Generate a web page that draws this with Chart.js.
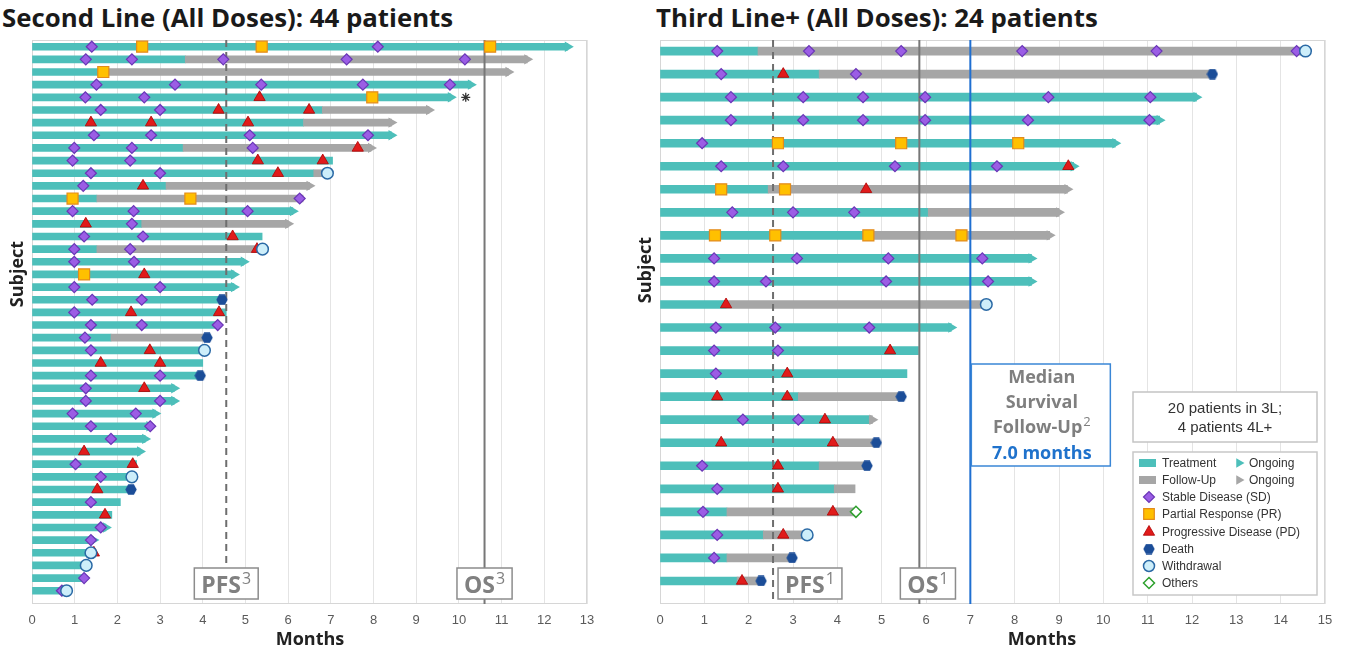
<!DOCTYPE html>
<html>
<head>
<meta charset="utf-8">
<script src="https://cdn.jsdelivr.net/npm/chart.js@4.4.0/dist/chart.umd.min.js"></script>
<style>
  html, body { margin: 0; padding: 0; background: #fff; width: 1348px; height: 651px; overflow: hidden; }
  .title { position: absolute; top: -1px; font-family: "Open Sans", sans-serif; font-weight: 700; font-size: 25.8px; line-height: 36px; color: #1a1a1a; white-space: nowrap; }
  #cL { position: absolute; left: 0; top: 0; }
  #cR { position: absolute; left: 628px; top: 0; }
</style>
</head>
<body>
<div class="title" style="left:2px">Second Line (All Doses): 44 patients</div>
<div class="title" style="left:656px">Third Line+ (All Doses): 24 patients</div>
<canvas id="cL" width="620" height="651"></canvas>
<canvas id="cR" width="720" height="651"></canvas>
<script>
// ---------- Second line (44 subjects), months ----------
const L_treatEnd = [12.55, 3.59, 1.67, 10.28, 9.81, 6.8, 6.36, 8.42, 3.54, 7.04, 6.6, 3.14, 1.52, 6.11, 2.57,
  5.39, 1.52, 4.96, 4.73, 4.73, 4.45, 4.55, 4.35, 1.85, 4.04, 4.0, 3.94, 3.33, 3.33, 2.89, 2.75, 2.65, 2.53,
  2.45, 2.34, 2.32, 2.07, 1.87, 1.73, 1.44, 1.45, 1.27, 1.22, 0.77];
const L_followEnd = [null, 11.6, 11.16, null, null, 9.3, 8.42, null, 7.94, null, 6.92, 6.5, 6.35, null, 6.0,
  null, 5.4, null, null, null, null, null, null, 4.1, null, null, null, null, null, null, null, null, null,
  null, null, null, null, null, null, null, null, null, null, null];
// 'T' = ongoing on treatment, 'F' = ongoing in follow-up
const L_ongoing = ['T', 'F', 'F', 'T', 'T', 'F', 'F', 'T', 'F', '', '', 'F', '', 'T', 'F', '', '', 'T', 'T', 'T',
  '', '', '', '', '', '', '', 'T', 'T', 'T', 'T', 'T', 'T', '', '', '', '', '', 'T', 'T', '', '', '', ''];
// [subject row, month]
const L_sd = [[0, 1.4], [0, 8.1], [1, 1.26], [1, 2.34], [1, 4.48], [1, 7.37], [1, 10.14], [3, 1.51], [3, 3.35],
  [3, 5.37], [3, 7.75], [3, 9.79], [4, 1.25], [4, 2.63], [5, 1.61], [5, 3.0], [7, 1.45], [7, 2.79], [7, 5.1],
  [7, 7.87], [8, 0.99], [8, 2.34], [8, 5.17], [9, 0.95], [9, 2.3], [10, 1.38], [10, 3.0], [11, 1.2], [12, 6.27],
  [13, 0.95], [13, 2.38], [13, 5.05], [14, 2.34], [15, 1.22], [15, 2.6], [16, 0.99], [16, 2.3], [17, 0.99],
  [17, 2.39], [19, 0.99], [19, 3.0], [20, 1.41], [20, 2.57], [21, 0.99], [22, 1.38], [22, 2.57], [22, 4.35],
  [23, 1.24], [24, 1.38], [26, 1.38], [26, 3.0], [27, 1.26], [28, 1.26], [28, 3.0], [29, 0.95], [29, 2.43],
  [30, 1.38], [30, 2.77], [31, 1.85], [33, 1.02], [34, 1.61], [36, 1.38], [38, 1.61], [39, 1.38], [42, 1.22],
  [43, 0.7]];
const L_pr = [[0, 2.58], [0, 5.38], [0, 10.73], [2, 1.67], [4, 7.97], [12, 0.95], [12, 3.71], [18, 1.22]];
const L_pd = [[4, 5.33], [5, 4.37], [5, 6.49], [6, 1.38], [6, 2.79], [6, 5.06], [8, 7.63], [9, 5.29], [9, 6.81],
  [10, 5.76], [11, 2.6], [14, 1.26], [15, 4.7], [16, 5.27], [18, 2.63], [21, 2.32], [21, 4.38], [24, 2.76],
  [25, 1.61], [25, 3.0], [27, 2.63], [32, 1.22], [33, 2.36], [35, 1.53], [37, 1.71], [40, 1.45]];
const L_death = [[20, 4.45], [23, 4.1], [26, 3.94], [35, 2.32]];
const L_withdrawal = [[10, 6.92], [16, 5.4], [24, 4.04], [34, 2.34], [40, 1.38], [41, 1.27], [43, 0.81]];
const L_others = [];
const L_footnote = [[4, 10.16]];
const L_pfs = 4.55, L_os = 10.6, L_maxMonth = 13;

// ---------- Third line+ (24 subjects), months ----------
const R_treatEnd = [2.21, 3.59, 12.1, 11.27, 10.27, 9.33, 2.44, 6.05, 4.7, 8.38, 8.38, 1.49, 6.57, 5.83, 5.57,
  3.12, 4.72, 3.9, 3.59, 3.93, 1.51, 2.33, 1.51, 1.74];
const R_followEnd = [14.56, 12.46, null, null, null, null, 9.19, 9.0, 8.79, null, null, 7.36, null, null, null,
  5.44, 4.79, 4.88, 4.67, 4.4, 4.42, 3.32, 2.98, 2.28];
const R_ongoing = ['', '', 'T', 'T', 'T', 'T', 'F', 'F', 'F', 'T', 'T', '', 'T', '', '', '', 'F', '', '', '',
  '', '', '', ''];
const R_sd = [[0, 1.29], [0, 3.36], [0, 5.44], [0, 8.17], [0, 11.2], [0, 14.36], [1, 1.38], [1, 4.42], [2, 1.6],
  [2, 3.23], [2, 4.58], [2, 5.98], [2, 8.76], [2, 11.06], [3, 1.6], [3, 3.23], [3, 4.58], [3, 5.98], [3, 8.3],
  [3, 11.04], [4, 0.95], [5, 1.38], [5, 2.78], [5, 5.3], [5, 7.6], [7, 1.63], [7, 3.0], [7, 4.38], [9, 1.22],
  [9, 3.09], [9, 5.15], [9, 7.27], [10, 1.22], [10, 2.39], [10, 5.1], [10, 7.4], [12, 1.26], [12, 2.6],
  [12, 4.72], [13, 1.22], [13, 2.66], [14, 1.26], [16, 1.87], [16, 3.12], [18, 0.95], [19, 1.29], [20, 0.97],
  [21, 1.29], [22, 1.22]];
const R_pr = [[4, 2.66], [4, 5.44], [4, 8.08], [6, 1.38], [6, 2.82], [8, 1.24], [8, 2.6], [8, 4.7], [8, 6.8]];
const R_pd = [[1, 2.78], [5, 9.21], [6, 4.65], [11, 1.49], [13, 5.19], [14, 2.87], [15, 1.29], [15, 2.87],
  [16, 3.72], [17, 1.38], [17, 3.9], [18, 2.66], [19, 2.66], [20, 3.9], [21, 2.78], [23, 1.85]];
const R_death = [[1, 12.46], [15, 5.44], [17, 4.88], [18, 4.67], [22, 2.98], [23, 2.28]];
const R_withdrawal = [[0, 14.56], [11, 7.36], [21, 3.32]];
const R_others = [[20, 4.42]];
const R_footnote = [];
const R_pfs = 2.55, R_os = 5.85, R_median = 7.0, R_maxMonth = 15;

// ---------- styling ----------
const TEAL = '#4dbfba', GREY = '#a6a6a6';
const SD_FILL = '#9b5de5', SD_EDGE = '#6a36b6';
const PR_FILL = '#ffc000', PR_EDGE = '#e38b1a';
const PD_FILL = '#e01b1b', PD_EDGE = '#b00000';
const DEATH = '#1b4d98';
const WD_FILL = '#cdeefa', WD_EDGE = '#2a69a5';
const OTHER_EDGE = '#2ca02c';
const SANS = '"Open Sans", sans-serif';
const ARIAL = '"Liberation Sans", Arial, sans-serif';

function hexagon(w) {
  const c = document.createElement('canvas');
  const h = Math.round(w * 0.9);
  c.width = w; c.height = h;
  const g = c.getContext('2d');
  const r = w / 2, cy = h / 2;
  g.beginPath();
  for (let k = 0; k < 6; k++) {
    const a = Math.PI / 3 * k;
    const px = r + (r - 0.3) * Math.cos(a);
    const py = cy + (h / 2 - 0.3) * Math.sin(a) / Math.sin(Math.PI / 3);
    if (k === 0) g.moveTo(px, py); else g.lineTo(px, py);
  }
  g.closePath();
  g.fillStyle = DEATH;
  g.fill();
  return c;
}
const HEX = hexagon(12);

const pts = pairs => pairs.map(p => ({ x: p[1], y: p[0] }));

function marker(data, style, extra) {
  return Object.assign({
    type: 'scatter', data: pts(data), pointStyle: style, pointRadius: 5.5,
    pointBorderWidth: 1.2, pointHoverRadius: 5.5
  }, extra);
}

function buildDatasets(d) {
  const n = d.treatEnd.length;
  const treat = d.treatEnd.map((v, i) => ({ x: [0, v], y: i }));
  const follow = [];
  const arrowsT = [], arrowsF = [];
  for (let i = 0; i < n; i++) {
    if (d.followEnd[i] != null) follow.push({ x: [d.treatEnd[i], d.followEnd[i]], y: i });
    if (d.ongoing[i] === 'T') arrowsT.push([i, d.treatEnd[i]]);
    if (d.ongoing[i] === 'F') arrowsF.push([i, d.followEnd[i]]);
  }
  const vline = (x, color, dash) => ({
    type: 'line', data: [{ x, y: d.yMin }, { x, y: d.yMax }], borderColor: color, borderWidth: 2,
    borderDash: dash, pointRadius: 0, fill: false, order: 20
  });
  const sets = [
    { type: 'bar', indexAxis: 'y', data: treat, backgroundColor: TEAL, barThickness: d.bar, grouped: false, order: 40 },
    { type: 'bar', indexAxis: 'y', data: follow, backgroundColor: GREY, barThickness: d.bar, grouped: false, order: 39 },
    marker(arrowsT, 'triangle', { rotation: 90, pointRadius: 6, pointBorderWidth: 0, backgroundColor: TEAL, order: 30 }),
    marker(arrowsF, 'triangle', { rotation: 90, pointRadius: 6, pointBorderWidth: 0, backgroundColor: GREY, order: 30 }),
    vline(d.pfs, '#6e6e6e', [7, 5]),
    vline(d.os, '#777777', [])
  ];
  if (d.median != null) sets.push(vline(d.median, '#1f6fd1', []));
  sets.push(
    marker(d.sd, 'rectRot', { backgroundColor: SD_FILL, borderColor: SD_EDGE, order: 12 }),
    marker(d.pr, 'rect', { pointRadius: 7.8, backgroundColor: PR_FILL, borderColor: PR_EDGE, order: 11 }),
    marker(d.pd, 'triangle', { pointRadius: 6.5, backgroundColor: PD_FILL, borderColor: PD_EDGE, pointBorderWidth: 0.8, order: 10 }),
    marker(d.others, 'rectRot', { pointRadius: 5.5, backgroundColor: '#ffffff', borderColor: OTHER_EDGE, pointBorderWidth: 1.5, order: 9 }),
    marker(d.death, HEX, { order: 8 }),
    marker(d.withdrawal, 'circle', { pointRadius: 5.8, backgroundColor: WD_FILL, borderColor: WD_EDGE, pointBorderWidth: 1.5, order: 7 }),
    marker(d.footnote, 'star', { pointRadius: 4.5, borderColor: '#333333', pointBorderWidth: 1.3, order: 6 })
  );
  return sets;
}

const TAG_MAIN = 'bold 23px ' + SANS, TAG_SUP = '16px ' + SANS, TAG_PAD = 7;
function tagWidth(ctx, main, sup) {
  ctx.save();
  ctx.font = TAG_MAIN;
  const w1 = ctx.measureText(main).width;
  ctx.font = TAG_SUP;
  const w2 = ctx.measureText(sup).width;
  ctx.restore();
  return w1 + w2 + 1 + TAG_PAD * 2;
}
function tagBox(ctx, left, top, main, sup) {
  ctx.save();
  ctx.font = TAG_MAIN;
  const w1 = ctx.measureText(main).width;
  const w = tagWidth(ctx, main, sup), h = 31;
  ctx.fillStyle = '#ffffff';
  ctx.fillRect(left, top, w, h);
  ctx.strokeStyle = '#8c8c8c';
  ctx.lineWidth = 1.5;
  ctx.strokeRect(left, top, w, h);
  ctx.fillStyle = '#808080';
  ctx.textAlign = 'left';
  ctx.textBaseline = 'alphabetic';
  ctx.font = TAG_MAIN;
  ctx.fillText(main, left + TAG_PAD, top + h - 6);
  ctx.font = TAG_SUP;
  ctx.fillText(sup, left + TAG_PAD + w1 + 1, top + 16);
  ctx.restore();
}

function swimmerDecor(d) {
  return {
    id: 'swimmerDecor',
    beforeDatasetsDraw(chart) {
      const { ctx, chartArea: a } = chart;
      ctx.save();
      ctx.strokeStyle = '#d6d6d6';
      ctx.lineWidth = 1;
      ctx.strokeRect(a.left + 0.5, a.top + 0.5, a.right - a.left - 1, a.bottom - a.top - 1);
      ctx.restore();
    },
    afterDatasetsDraw(chart) {
      const { ctx, chartArea: a, scales: { x } } = chart;
      const top = a.bottom - 36;
      const pfsX = x.getPixelForValue(d.pfs), osX = x.getPixelForValue(d.os);
      const wP = tagWidth(ctx, 'PFS', d.sup), wO = tagWidth(ctx, 'OS', d.sup);
      tagBox(ctx, d.tagAlign === 'center' ? pfsX - wP / 2 : pfsX + 5, top, 'PFS', d.sup);
      tagBox(ctx, d.tagAlign === 'center' ? osX - wO / 2 : osX - 19, top, 'OS', d.sup);
      // axis titles
      ctx.save();
      ctx.font = 'bold 18px ' + SANS;
      ctx.fillStyle = '#222222';
      ctx.textAlign = 'center';
      ctx.textBaseline = 'middle';
      ctx.fillText('Months', d.monthsX, 640);
      ctx.translate(18, d.subjectY);
      ctx.rotate(-Math.PI / 2);
      ctx.fillText('Subject', 0, 0);
      ctx.restore();
      if (d.extra) d.extra(chart);
    }
  };
}

function thirdLineExtras(chart) {
  const { ctx, scales: { x } } = chart;
  const H = Chart.helpers;
  ctx.save();
  // median follow-up callout
  const mL = x.getPixelForValue(R_median) + 1, mR = mL + 139, mT = 364, mB = 466;
  ctx.fillStyle = '#ffffff';
  ctx.fillRect(mL, mT, mR - mL, mB - mT);
  ctx.strokeStyle = '#3a86d6';
  ctx.lineWidth = 1.5;
  ctx.strokeRect(mL, mT, mR - mL, mB - mT);
  const cx = (mL + mR) / 2 + 1;
  ctx.textAlign = 'center';
  ctx.textBaseline = 'middle';
  ctx.font = 'bold 18px ' + SANS;
  ctx.fillStyle = '#7f7f7f';
  ctx.fillText('Median', cx, 378);
  ctx.fillText('Survival', cx, 403);
  const fw = ctx.measureText('Follow-Up').width;
  ctx.font = '13px ' + SANS;
  const sw = ctx.measureText('2').width;
  ctx.textAlign = 'left';
  ctx.font = 'bold 18px ' + SANS;
  ctx.fillText('Follow-Up', cx - (fw + sw + 1) / 2, 428);
  ctx.font = '13px ' + SANS;
  ctx.fillText('2', cx - (fw + sw + 1) / 2 + fw + 1, 422);
  ctx.textAlign = 'center';
  ctx.font = 'bold 18px ' + SANS;
  ctx.fillStyle = '#1f72cc';
  ctx.fillText('7.0 months', cx, 454);

  // cohort note
  const bL = 505, bR = 689;
  ctx.fillStyle = '#ffffff';
  ctx.fillRect(bL, 392, bR - bL, 50);
  ctx.strokeStyle = '#c4c4c4';
  ctx.lineWidth = 1.5;
  ctx.strokeRect(bL, 392, bR - bL, 50);
  ctx.fillStyle = '#333333';
  ctx.font = '15px ' + ARIAL;
  ctx.fillText('20 patients in 3L;', (bL + bR) / 2, 409);
  ctx.fillText('4 patients 4L+', (bL + bR) / 2, 428);

  // legend
  ctx.fillStyle = '#ffffff';
  ctx.fillRect(bL, 452, bR - bL, 143);
  ctx.strokeStyle = '#c8c8c8';
  ctx.strokeRect(bL, 452, bR - bL, 143);
  const mx = 521, tx = 534;
  const rowsY = [463, 480, 497, 514, 532, 549, 566, 583];
  ctx.fillStyle = TEAL; ctx.fillRect(mx - 10, rowsY[0] - 4, 17, 8);
  ctx.fillStyle = GREY; ctx.fillRect(mx - 10, rowsY[1] - 4, 17, 8);
  const pt = (style, y, o) => {
    ctx.save();
    ctx.fillStyle = o.fill; ctx.strokeStyle = o.edge || o.fill; ctx.lineWidth = o.bw || 0;
    H.drawPoint(ctx, { pointStyle: style, radius: o.r, rotation: o.rot || 0, borderWidth: o.bw || 0 }, o.x || mx, y);
    ctx.restore();
  };
  pt('triangle', rowsY[0], { fill: TEAL, r: 5.5, rot: 90, x: 611 });
  pt('triangle', rowsY[1], { fill: GREY, r: 5.5, rot: 90, x: 611 });
  pt('rectRot', rowsY[2], { fill: SD_FILL, edge: SD_EDGE, r: 5.5, bw: 1.2 });
  pt('rect', rowsY[3], { fill: PR_FILL, edge: PR_EDGE, r: 7.5, bw: 1.2 });
  pt('triangle', rowsY[4], { fill: PD_FILL, edge: PD_EDGE, r: 6.5, bw: 0.8 });
  ctx.drawImage(HEX, mx - 6, rowsY[5] - 5.5);
  pt('circle', rowsY[6], { fill: WD_FILL, edge: WD_EDGE, r: 5.5, bw: 1.5 });
  pt('rectRot', rowsY[7], { fill: '#ffffff', edge: OTHER_EDGE, r: 5.5, bw: 1.5 });
  ctx.fillStyle = '#333333';
  ctx.font = '12px ' + ARIAL;
  ctx.textAlign = 'left';
  ctx.textBaseline = 'middle';
  const labels = ['Treatment', 'Follow-Up', 'Stable Disease (SD)', 'Partial Response (PR)',
    'Progressive Disease (PD)', 'Death', 'Withdrawal', 'Others'];
  labels.forEach((t, i) => ctx.fillText(t, tx, rowsY[i] + 1));
  ctx.fillText('Ongoing', 621, rowsY[0] + 1);
  ctx.fillText('Ongoing', 621, rowsY[1] + 1);
  ctx.restore();
}

function makeChart(id, d) {
  return new Chart(document.getElementById(id), {
    type: 'bar',
    data: { datasets: buildDatasets(d) },
    options: {
      responsive: false,
      devicePixelRatio: 1,
      animation: false,
      events: [],
      layout: { padding: { left: 32, right: d.padRight, top: 40, bottom: 13.4 } },
      plugins: { legend: { display: false }, tooltip: { enabled: false } },
      scales: {
        x: {
          type: 'linear', min: 0, max: d.maxMonth, offset: false,
          ticks: { stepSize: 1, color: '#5a5a5a', font: { family: ARIAL, size: 13 }, padding: 9 },
          grid: { color: '#e4e4e4', drawTicks: false, offset: false },
          border: { display: false },
          title: { display: false }
        },
        y: { type: 'linear', reverse: true, min: d.yMin, max: d.yMax, offset: false, display: false,
          grid: { offset: false } }
      }
    },
    plugins: [swimmerDecor(d)]
  });
}

makeChart('cL', {
  treatEnd: L_treatEnd, followEnd: L_followEnd, ongoing: L_ongoing,
  sd: L_sd, pr: L_pr, pd: L_pd, death: L_death, withdrawal: L_withdrawal, others: L_others, footnote: L_footnote,
  pfs: L_pfs, os: L_os, median: null, maxMonth: L_maxMonth,
  yMin: -0.53, yMax: 44.05, bar: 7, padRight: 33, sup: '3', tagAlign: 'center', subjectY: 274, monthsX: 310
});
makeChart('cR', {
  treatEnd: R_treatEnd, followEnd: R_followEnd, ongoing: R_ongoing,
  sd: R_sd, pr: R_pr, pd: R_pd, death: R_death, withdrawal: R_withdrawal, others: R_others, footnote: R_footnote,
  pfs: R_pfs, os: R_os, median: R_median, maxMonth: R_maxMonth,
  yMin: -0.48, yMax: 24.0, bar: 8, padRight: 23, sup: '1', tagAlign: 'right', subjectY: 270, monthsX: 414,
  extra: thirdLineExtras
});
</script>
</body>
</html>
